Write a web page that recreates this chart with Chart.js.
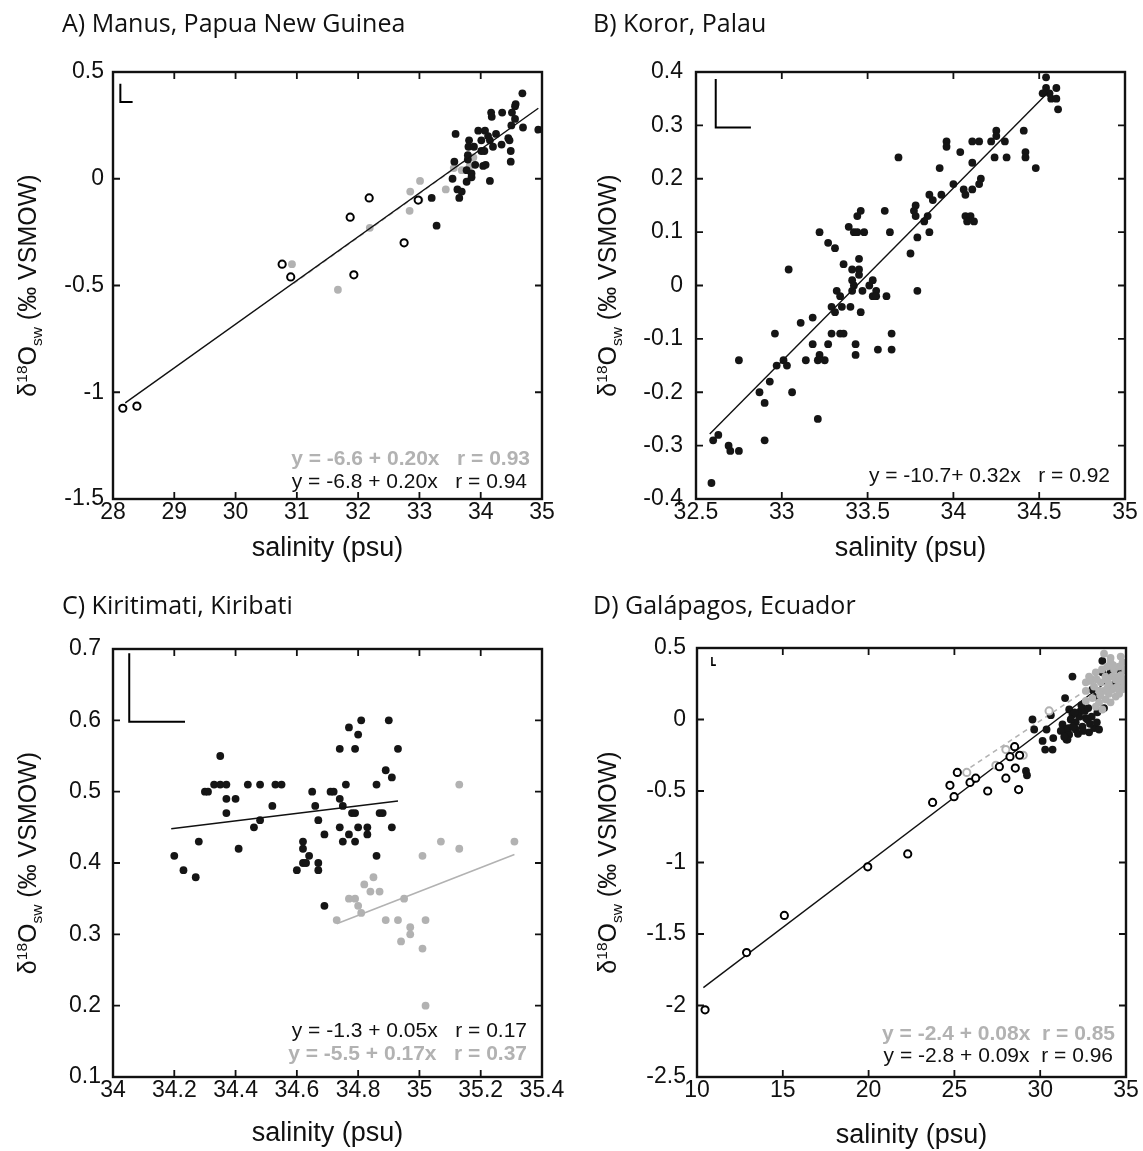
<!DOCTYPE html>
<html>
<head>
<meta charset="utf-8">
<script src="https://cdn.jsdelivr.net/npm/chart.js@4.4.0/dist/chart.umd.min.js"></script>
<style>
  html, body { margin: 0; padding: 0; background: #fff; }
  #wrap { position: relative; width: 1143px; height: 1151px; }
  #wrap canvas { position: absolute; left: 0; top: 0; }
</style>
</head>
<body>
<div id="wrap">
  <canvas id="chartA" width="1143" height="1151"></canvas>
  <canvas id="chartB" width="1143" height="1151"></canvas>
  <canvas id="chartC" width="1143" height="1151"></canvas>
  <canvas id="chartD" width="1143" height="1151"></canvas>
</div>
<script>
// ---- data: [salinity, d18O] pairs ----

// A) Manus
const manusBlack = [
  [34.68,0.40],[34.57,0.35],[34.56,0.34],[34.17,0.31],[34.18,0.29],[34.35,0.31],[34.51,0.31],[34.56,0.28],
  [33.59,0.21],[33.96,0.225],[34.07,0.225],[34.25,0.21],[34.50,0.25],[34.69,0.24],[34.94,0.23],[33.81,0.18],
  [34.01,0.18],[34.15,0.18],[34.12,0.20],[34.45,0.19],[34.47,0.18],[34.34,0.16],[33.80,0.15],[33.89,0.15],
  [34.01,0.13],[34.06,0.13],[34.20,0.15],[34.49,0.13],[34.49,0.08],[33.79,0.11],[33.79,0.09],[33.57,0.08],
  [33.91,0.065],[34.04,0.06],[34.08,0.065],[33.77,0.04],[33.85,0.025],[33.85,0.007],[33.54,0.00],[33.77,-0.014],
  [34.15,-0.01],[33.62,-0.05],[33.69,-0.06],[33.65,-0.09],[33.20,-0.09],[33.28,-0.22]
];
const manusGray = [
  [30.92,-0.40],[31.67,-0.52],[32.19,-0.23],[32.85,-0.06],[33.01,-0.01],[32.84,-0.15],[33.00,-0.10],
  [33.43,-0.05],[33.56,0.05],[33.69,0.04],[33.82,0.06],[33.88,0.10]
];
const manusOpen = [
  [28.16,-1.075],[28.39,-1.065],[30.76,-0.40],[30.90,-0.46],[31.87,-0.18],[31.93,-0.45],[32.18,-0.09],
  [32.75,-0.30],[32.98,-0.10]
];
const manusFitBlack = [[28.2,-1.05],[34.94,0.33]];
const manusFitGray = [[30.95,-0.49],[33.9,0.115]];
const manusScaleBar = [[28.12,0.445],[28.12,0.36],[28.32,0.36]];
const manusTicksX = [28,29,30,31,32,33,34,35];
const manusTicksY = [-1.5,-1,-0.5,0,0.5];

// B) Koror
const kororBlack = [
  [34.54,0.39],[34.54,0.37],[34.52,0.36],[34.56,0.36],[34.60,0.37],[34.57,0.35],[34.60,0.35],[34.61,0.33],
  [34.41,0.29],[34.42,0.25],[34.42,0.24],[34.48,0.22],[34.25,0.29],[34.25,0.28],[34.30,0.27],[34.22,0.27],
  [34.15,0.27],[34.11,0.27],[34.24,0.24],[34.31,0.24],[33.96,0.27],[33.96,0.26],[34.04,0.25],[34.11,0.23],
  [33.92,0.22],[34.00,0.19],[34.06,0.18],[34.07,0.17],[34.11,0.18],[34.15,0.19],[34.16,0.20],[33.86,0.17],
  [33.88,0.16],[33.93,0.17],[33.68,0.24],[33.78,0.15],[33.77,0.14],[33.78,0.13],[33.85,0.13],[33.83,0.12],
  [33.79,0.09],[33.86,0.10],[33.75,0.06],[33.79,-0.01],[34.07,0.13],[34.10,0.13],[34.08,0.12],[34.12,0.12],
  [33.60,0.14],[33.46,0.14],[33.44,0.13],[33.39,0.11],[33.42,0.10],[33.44,0.10],[33.48,0.10],[33.63,0.10],
  [33.22,0.10],[33.27,0.08],[33.31,0.07],[33.36,0.04],[33.41,0.03],[33.45,0.03],[33.45,0.05],[33.45,0.02],
  [33.41,0.01],[33.53,0.01],[33.51,0.00],[33.47,-0.01],[33.41,-0.01],[33.42,0.00],[33.32,-0.01],[33.34,-0.02],
  [33.55,-0.01],[33.53,-0.02],[33.55,-0.02],[33.61,-0.02],[33.04,0.03],[33.29,-0.04],[33.35,-0.04],[33.40,-0.04],
  [33.31,-0.05],[33.46,-0.05],[33.18,-0.06],[33.11,-0.07],[32.96,-0.09],[33.29,-0.09],[33.34,-0.09],[33.36,-0.09],
  [33.64,-0.09],[33.43,-0.11],[33.18,-0.11],[33.27,-0.11],[33.43,-0.13],[33.56,-0.12],[33.64,-0.12],[33.22,-0.13],
  [33.21,-0.14],[33.25,-0.14],[33.14,-0.14],[33.01,-0.14],[32.75,-0.14],[32.97,-0.15],[33.03,-0.15],[32.93,-0.18],
  [32.87,-0.20],[33.06,-0.20],[32.90,-0.22],[33.21,-0.25],[32.90,-0.29],[32.60,-0.29],[32.63,-0.28],[32.69,-0.30],
  [32.70,-0.31],[32.75,-0.31],[32.59,-0.37]
];
const kororFit = [[32.58,-0.278],[34.55,0.361]];
const kororScaleBar = [[32.615,0.387],[32.615,0.296],[32.82,0.296]];
const kororTicksX = [32.5,33,33.5,34,34.5,35];
const kororTicksY = [-0.4,-0.3,-0.2,-0.1,0,0.1,0.2,0.3,0.4];

// C) Kiritimati
const kiriBlack = [
  [34.35,0.55],[34.77,0.59],[34.81,0.60],[34.80,0.58],[34.90,0.60],[34.74,0.56],[34.79,0.56],[34.93,0.56],
  [34.89,0.53],[34.91,0.52],[34.30,0.50],[34.31,0.50],[34.33,0.51],[34.35,0.51],[34.37,0.51],[34.44,0.51],
  [34.48,0.51],[34.53,0.51],[34.55,0.51],[34.65,0.50],[34.71,0.50],[34.72,0.50],[34.76,0.51],[34.86,0.51],
  [34.37,0.49],[34.40,0.49],[34.52,0.48],[34.66,0.48],[34.74,0.49],[34.75,0.48],[34.37,0.47],[34.78,0.47],
  [34.79,0.47],[34.87,0.47],[34.88,0.47],[34.48,0.46],[34.46,0.45],[34.67,0.46],[34.74,0.45],[34.80,0.45],
  [34.83,0.45],[34.91,0.45],[34.69,0.44],[34.77,0.44],[34.83,0.44],[34.28,0.43],[34.41,0.42],[34.20,0.41],
  [34.23,0.39],[34.27,0.38],[34.62,0.43],[34.62,0.42],[34.64,0.41],[34.62,0.40],[34.63,0.40],[34.67,0.40],
  [34.67,0.39],[34.60,0.39],[34.69,0.34],[34.75,0.43],[34.79,0.43],[34.86,0.41]
];
const kiriGray = [
  [35.13,0.51],[35.07,0.43],[35.13,0.42],[35.31,0.43],[35.01,0.41],[34.85,0.38],[34.82,0.37],[34.84,0.36],
  [34.87,0.36],[34.77,0.35],[34.79,0.35],[34.95,0.35],[34.80,0.34],[34.81,0.33],[34.73,0.32],[34.89,0.32],
  [34.93,0.32],[35.02,0.32],[34.97,0.31],[34.97,0.30],[34.94,0.29],[35.01,0.28],[35.02,0.20]
];
const kiriFitBlack = [[34.19,0.448],[34.93,0.487]];
const kiriFitGray = [[34.73,0.315],[35.31,0.412]];
const kiriScaleBar = [[34.053,0.694],[34.053,0.598],[34.235,0.598]];
const kiriTicksX = [34,34.2,34.4,34.6,34.8,35,35.2,35.4];
const kiriTicksY = [0.1,0.2,0.3,0.4,0.5,0.6,0.7];

// D) Galapagos
const galaBlack = [
  [31.88,0.30],[31.45,0.15],[30.62,0.03],[29.55,0.00],[29.65,-0.07],[30.37,-0.07],[30.14,-0.15],[30.76,-0.13],
  [30.29,-0.21],[30.72,-0.21],[29.17,-0.36],[29.23,-0.39],[31.69,0.07],[31.88,0.035],[32.07,-0.02],[31.30,-0.035],
  [31.49,-0.07],[31.69,-0.105],[31.53,-0.14],[32.36,0.06],[32.66,0.01],[32.46,-0.05],[32.85,-0.09],[33.14,-0.06],
  [33.43,-0.07],[33.04,0.21],[33.24,0.16],[33.62,0.33],[33.62,0.41],[34.10,0.33],[34.40,0.26],[34.69,0.33],
  [34.59,0.24],[33.33,0.05],[33.72,0.08],[32.07,-0.07],[32.75,0.00],[31.78,0.00],[32.27,0.02],[31.59,-0.14],
  [31.65,-0.06],[31.20,-0.08],[31.90,-0.05],[32.20,-0.10],[32.50,-0.08],[32.90,-0.03],[33.00,0.02],[32.60,0.06],
  [33.30,-0.02],[31.40,-0.12],[32.00,0.05],[32.40,0.10],[32.80,0.08]
];
const galaGray = [
  [33.72,0.46],[34.69,0.44],[34.10,0.40],[33.24,0.33],[32.85,0.27],[32.66,0.20],[33.04,0.15],[33.43,0.12],
  [33.82,0.14],[34.20,0.21],[34.79,0.21],[33.91,0.28],[33.53,0.26],[33.14,0.23],[34.50,0.30],[34.30,0.35],
  [33.91,0.37],[32.66,0.13],[32.85,0.30],[33.43,0.20],[33.91,0.22],[34.40,0.16],[33.62,0.07],[33.24,0.09],
  [32.66,0.26],[34.10,0.43],[34.59,0.37],[34.88,0.28],[33.00,0.28],[34.00,0.18],[34.20,0.30],[34.40,0.28],
  [33.80,0.30],[34.60,0.27],[34.00,0.25],[34.30,0.22],[33.70,0.20],[34.50,0.23],[34.90,0.25],[34.95,0.35],
  [34.80,0.40],[33.50,0.17],[34.10,0.12],[34.60,0.18],[33.30,0.28],[33.60,0.35],[34.70,0.31],[34.25,0.38]
];
const galaOpenBlack = [
  [10.47,-2.03],[12.89,-1.63],[15.09,-1.37],[19.95,-1.03],[22.28,-0.94],[23.73,-0.58],[24.74,-0.46],[24.98,-0.54],
  [25.17,-0.37],[25.91,-0.44],[26.24,-0.41],[26.94,-0.50],[28.00,-0.41],[28.55,-0.34],[28.24,-0.26],[28.51,-0.19],
  [27.62,-0.33],[28.74,-0.49],[28.80,-0.25]
];
const galaOpenGray = [[25.72,-0.37],[27.42,-0.32],[28.00,-0.21],[29.01,-0.25],[30.52,0.06]];
const galaFitBlack = [[10.37,-1.875],[34.5,0.32]];
const galaFitGray = [[25.5,-0.37],[34.6,0.36]];
const galaScaleBar = [[10.87,0.437],[10.87,0.38],[11.1,0.38]];
const galaTicksX = [10,15,20,25,30,35];
const galaTicksY = [-2.5,-2,-1.5,-1,-0.5,0,0.5];

// ---- styling ----
const W = 1143, H = 1151;
const BLACK = '#151515';
const GRAY = '#b2b2b2';
const TICK_FONT = { family: 'Liberation Sans', size: 23 };

function pts(arr) { return arr.map(p => ({ x: p[0], y: p[1] })); }

function dots(arr, color, order) {
  return { type: 'scatter', data: pts(arr), pointRadius: 3.9, pointBackgroundColor: color,
           pointBorderColor: color, pointBorderWidth: 0, order: order };
}
function rings(arr, color, order) {
  return { type: 'scatter', data: pts(arr), pointRadius: 3.6, pointBackgroundColor: '#fff',
           pointBorderColor: color, pointBorderWidth: 2, order: order };
}
function line(arr, color, width, dash, order) {
  return { type: 'line', data: pts(arr), borderColor: color, borderWidth: width, borderDash: dash || [],
           pointRadius: 0, fill: false, tension: 0, order: order };
}

function drawYLabel(ctx, cx, cy) {
  const size = 25;
  const parts = [
    { t: '\u03b4', s: size, dy: 0 },
    { t: '18', s: size * 0.62, dy: -size * 0.36 },
    { t: 'O', s: size, dy: 0 },
    { t: 'sw', s: size * 0.62, dy: size * 0.22 },
    { t: ' (\u2030 VSMOW)', s: size, dy: 0 }
  ];
  ctx.save();
  ctx.translate(cx, cy);
  ctx.rotate(-Math.PI / 2);
  ctx.fillStyle = '#111';
  ctx.textAlign = 'left';
  ctx.textBaseline = 'alphabetic';
  let total = 0;
  parts.forEach(p => { ctx.font = p.s + 'px "Liberation Sans"'; p.w = ctx.measureText(p.t).width; total += p.w; });
  let x = -total / 2;
  parts.forEach(p => {
    ctx.font = p.s + 'px "Liberation Sans"';
    ctx.fillText(p.t, x, size * 0.36 + p.dy);
    x += p.w;
  });
  ctx.restore();
}

function decorPlugin(p) {
  return {
    id: 'decor',
    afterDraw(chart) {
      const ctx = chart.ctx, a = chart.chartArea;
      const xs = chart.scales.x, ys = chart.scales.y;
      const tl = 7;
      ctx.save();
      ctx.strokeStyle = '#111';
      ctx.lineWidth = 1.8;
      ctx.beginPath();
      xs.ticks.forEach(t => {
        const px = xs.getPixelForValue(t.value);
        ctx.moveTo(px, a.bottom); ctx.lineTo(px, a.bottom - tl);
        ctx.moveTo(px, a.top); ctx.lineTo(px, a.top + tl);
      });
      ys.ticks.forEach(t => {
        const py = ys.getPixelForValue(t.value);
        ctx.moveTo(a.left, py); ctx.lineTo(a.left + tl, py);
        ctx.moveTo(a.right, py); ctx.lineTo(a.right - tl, py);
      });
      ctx.stroke();
      ctx.lineWidth = 2.4;
      ctx.strokeRect(a.left, a.top, a.right - a.left, a.bottom - a.top);

      // panel title
      ctx.fillStyle = '#111';
      ctx.font = '25px "Open Sans"';
      ctx.textAlign = 'left';
      ctx.textBaseline = 'alphabetic';
      ctx.fillText(p.title, p.titleX, p.titleY);

      // x axis title
      ctx.font = '27px "Liberation Sans"';
      ctx.textAlign = 'center';
      ctx.textBaseline = 'middle';
      ctx.fillText('salinity (psu)', (a.left + a.right) / 2, p.xTitleY);

      // y axis title
      drawYLabel(ctx, p.yTitleX, (a.top + a.bottom) / 2);

      // regression equations
      ctx.textAlign = 'right';
      ctx.textBaseline = 'alphabetic';
      p.eqs.forEach(e => {
        ctx.font = (e.bold ? 'bold ' : '') + '21px "Liberation Sans"';
        ctx.fillStyle = e.color;
        ctx.fillText(e.text, e.x, e.y);
      });
      ctx.restore();
    }
  };
}

function makePanel(id, p) {
  const a = p.area;
  new Chart(document.getElementById(id), {
    type: 'scatter',
    data: { datasets: p.datasets },
    options: {
      responsive: false,
      animation: false,
      events: [],
      layout: { padding: { left: a.left - 70, top: a.top, right: W - a.right, bottom: H - a.bottom - 40 } },
      plugins: { legend: { display: false }, tooltip: { enabled: false } },
      scales: {
        x: {
          type: 'linear', min: p.xTicks[0], max: p.xTicks[p.xTicks.length - 1],
          afterBuildTicks: s => { s.ticks = p.xTicks.map(v => ({ value: v })); },
          afterFit: s => { s.height = 40; },
          grid: { display: false, drawTicks: false },
          border: { display: false },
          ticks: { font: TICK_FONT, color: '#111', padding: 0, maxRotation: 0, autoSkip: false,
                   callback: v => String(v) }
        },
        y: {
          type: 'linear', min: p.yTicks[0], max: p.yTicks[p.yTicks.length - 1],
          afterBuildTicks: s => { s.ticks = p.yTicks.map(v => ({ value: v })); },
          afterFit: s => { s.width = 70; },
          grid: { display: false, drawTicks: false },
          border: { display: false },
          ticks: { font: TICK_FONT, color: '#111', padding: p.yPad, autoSkip: false,
                   callback: v => String(v) }
        }
      }
    },
    plugins: [decorPlugin(p)]
  });
}

makePanel('chartA', {
  area: { left: 113, top: 72, right: 542, bottom: 499 },
  xTicks: manusTicksX, yTicks: manusTicksY, yPad: 9,
  title: 'A) Manus, Papua New Guinea', titleX: 62, titleY: 32,
  xTitleY: 549, yTitleX: 27,
  eqs: [
    { text: 'y = -6.6 + 0.20x   r = 0.93', color: GRAY, bold: true, x: 530, y: 465 },
    { text: 'y = -6.8 + 0.20x   r = 0.94', color: '#111', bold: false, x: 527, y: 488 }
  ],
  datasets: [
    line(manusFitBlack, '#111', 1.4, null, 0),
    rings(manusOpen, '#000', 1),
    dots(manusBlack, BLACK, 2),
    line(manusFitGray, GRAY, 1.4, [5, 4], 3),
    dots(manusGray, GRAY, 4),
    line(manusScaleBar, '#000', 2, null, 5)
  ]
});

makePanel('chartB', {
  area: { left: 696, top: 72, right: 1125, bottom: 499 },
  xTicks: kororTicksX, yTicks: kororTicksY, yPad: 13,
  title: 'B) Koror, Palau', titleX: 593, titleY: 32,
  xTitleY: 549, yTitleX: 607,
  eqs: [
    { text: 'y = -10.7+ 0.32x   r = 0.92', color: '#111', bold: false, x: 1110, y: 482 }
  ],
  datasets: [
    line(kororFit, '#111', 1.4, null, 0),
    dots(kororBlack, BLACK, 1),
    line(kororScaleBar, '#000', 2, null, 2)
  ]
});

makePanel('chartC', {
  area: { left: 113, top: 649, right: 542, bottom: 1077 },
  xTicks: kiriTicksX, yTicks: kiriTicksY, yPad: 12,
  title: 'C) Kiritimati, Kiribati', titleX: 62, titleY: 614,
  xTitleY: 1134, yTitleX: 27,
  eqs: [
    { text: 'y = -1.3 + 0.05x   r = 0.17', color: '#111', bold: false, x: 527, y: 1037 },
    { text: 'y = -5.5 + 0.17x   r = 0.37', color: GRAY, bold: true, x: 527, y: 1060 }
  ],
  datasets: [
    line(kiriFitBlack, '#111', 1.4, null, 0),
    line(kiriFitGray, GRAY, 1.6, null, 1),
    dots(kiriBlack, BLACK, 2),
    dots(kiriGray, GRAY, 3),
    line(kiriScaleBar, '#000', 2, null, 4)
  ]
});

makePanel('chartD', {
  area: { left: 697, top: 648, right: 1126, bottom: 1077 },
  xTicks: galaTicksX, yTicks: galaTicksY, yPad: 11,
  title: 'D) Gal\u00e1pagos, Ecuador', titleX: 593, titleY: 614,
  xTitleY: 1136, yTitleX: 607,
  eqs: [
    { text: 'y = -2.4 + 0.08x  r = 0.85', color: GRAY, bold: true, x: 1115, y: 1040 },
    { text: 'y = -2.8 + 0.09x  r = 0.96', color: '#111', bold: false, x: 1113, y: 1062 }
  ],
  datasets: [
    rings(galaOpenBlack, '#000', 0),
    rings(galaOpenGray, GRAY, 1),
    dots(galaGray, GRAY, 2),
    dots(galaBlack, BLACK, 3),
    line(galaFitBlack, '#111', 1.4, null, 4),
    line(galaFitGray, GRAY, 1.6, [5, 4], 5),
    line(galaScaleBar, '#000', 1.6, null, 6)
  ]
});
</script>
</body>
</html>
